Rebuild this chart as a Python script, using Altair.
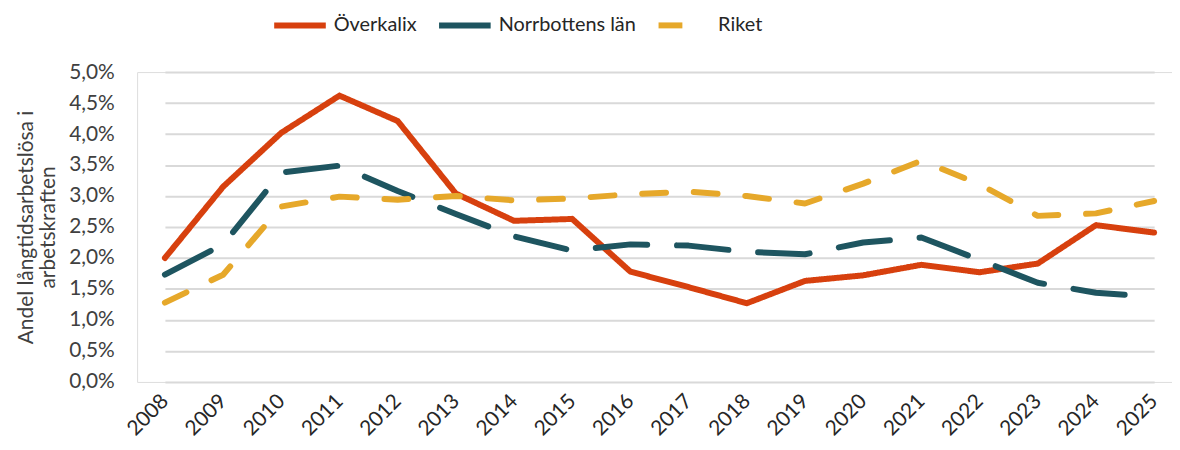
import altair as alt
import pandas as pd

years = [str(y) for y in range(2008, 2026)]
series_names = ["Överkalix", "Norrbottens län", "Riket"]
overkalix = [2.00, 3.15, 4.02, 4.62, 4.21, 3.04, 2.60, 2.63, 1.78, 1.53, 1.27, 1.63, 1.72, 1.89, 1.77, 1.91, 2.53, 2.41]
norrbotten = [1.73, 2.22, 3.38, 3.49, 3.08, 2.71, 2.35, 2.12, 2.22, 2.20, 2.10, 2.06, 2.25, 2.33, 1.97, 1.60, 1.44, 1.37]
riket = [1.28, 1.73, 2.83, 2.99, 2.94, 3.00, 2.93, 2.96, 3.03, 3.07, 3.00, 2.88, 3.20, 3.57, 3.19, 2.68, 2.72, 2.92]

rows = []
for name, vals in zip(series_names, [overkalix, norrbotten, riket]):
    for y, v in zip(years, vals):
        rows.append({"År": y, "Serie": name, "Värde": v / 100})
df = pd.DataFrame(rows)

colors = ["#D7400E", "#1E5560", "#E6A82A"]
dashes = [[1, 0], [52, 30], [24, 28]]

def make_legend():
    return alt.Legend(title=None, orient="none", legendX=135, legendY=-76, direction="horizontal",
                      symbolType="stroke", symbolStrokeWidth=6, symbolSize=2700,
                      labelFontSize=20, labelFont="Lato", labelColor="#262626",
                      columnPadding=10, labelOffset=5)

chart = alt.Chart(df).mark_line(strokeWidth=6, strokeCap="round", strokeJoin="round").encode(
    x=alt.X("År:O", sort=years, scale=alt.Scale(type="point", range=[28, 1024], padding=0),
            axis=alt.Axis(title=None, labelAngle=-45, labelFontSize=21, labelColor="#262626",
                          labelFont="Lato", domain=False, ticks=False, labelPadding=16,
                          labelAlign="right", labelBaseline="middle")),
    y=alt.Y("Värde:Q", scale=alt.Scale(domain=[0, 0.05]),
            axis=alt.Axis(title=["Andel långtidsarbetslösa i", "arbetskraften"],
                          titleFontSize=21, titleFontWeight="normal", titleFont="Lato",
                          titleColor="#404040", titlePadding=10, titleLineHeight=22,
                          values=[i * 0.005 for i in range(11)],
                          labelExpr="replace(format(datum.value, '.1%'), '.', ',')",
                          labelFontSize=21, labelColor="#404040", labelFont="Lato",
                          labelPadding=23, domain=False, ticks=False,
                          gridColor="#D9D9D9", gridWidth=2)),
    color=alt.Color("Serie:N", sort=series_names,
                    scale=alt.Scale(domain=series_names, range=colors),
                    legend=make_legend()),
    strokeDash=alt.StrokeDash("Serie:N", sort=series_names,
                              scale=alt.Scale(domain=series_names, range=dashes),
                              legend=make_legend()),
).properties(width=1042, height=312, autosize=alt.AutoSizeParams(type="none")).configure_view(stroke=None).configure(
    padding={"left": 130, "top": 63, "right": 0, "bottom": 66})

chart.save("out.html", embed_options={"renderer": "svg", "actions": False})
